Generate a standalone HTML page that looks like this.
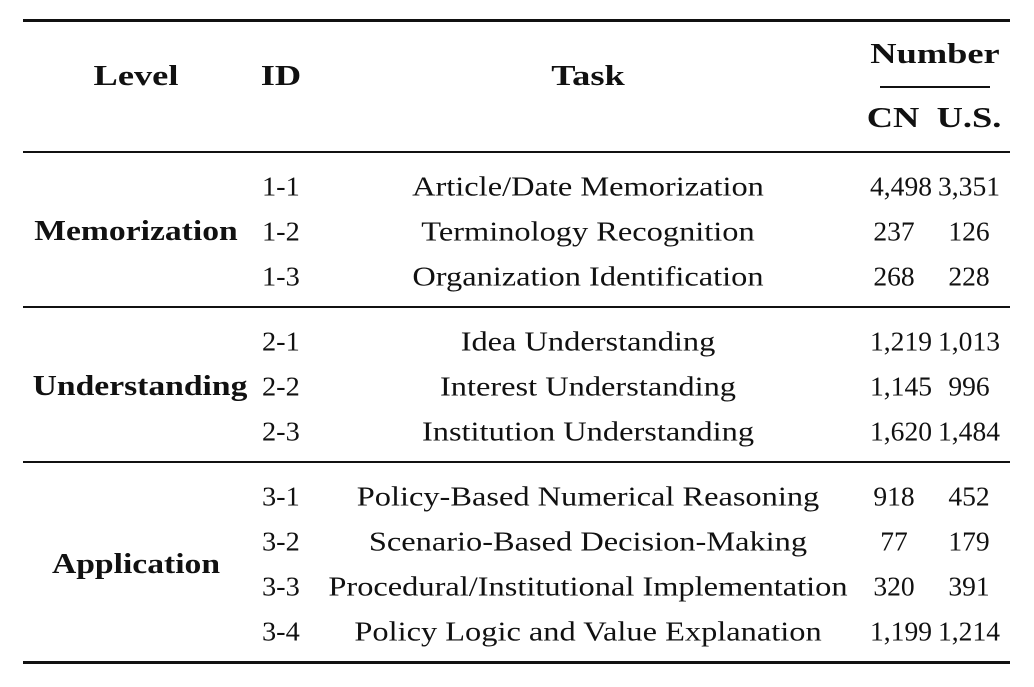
<!DOCTYPE html>
<html><head><meta charset="utf-8"><style>
body{margin:0;width:1034px;height:687px;background:#fff;position:relative;font-family:"Liberation Serif",serif;color:#111;overflow:hidden}
.t{position:absolute;white-space:nowrap;font-size:27px;line-height:1;transform:translate(-50%,-50%) scaleX(1.2)}
.n{position:absolute;white-space:nowrap;font-size:27px;line-height:1;transform:translate(-50%,-50%) scaleX(1.02)}
.l{position:absolute;white-space:nowrap;font-size:27px;line-height:1;transform:translateY(-50%) scaleX(1.05);transform-origin:left center}
.b{position:absolute;white-space:nowrap;line-height:1;font-weight:bold;font-size:28px;transform:translate(-50%,-50%) scaleX(1.2)}
.h{position:absolute;white-space:nowrap;line-height:1;font-weight:bold;font-size:28px;transform:translate(-50%,-50%) scaleX(1.3)}
.r{position:absolute;left:23px;width:987px;background:#111}
</style></head><body>
<div class="r" style="top:19px;height:3px"></div>
<div class="r" style="top:151px;height:1.5px"></div>
<div class="r" style="top:306px;height:1.5px"></div>
<div class="r" style="top:461px;height:1.5px"></div>
<div class="r" style="top:661px;height:3px"></div>
<div style="position:absolute;left:880px;width:110px;top:86px;height:1.5px;background:#111"></div>

<div class="h" style="left:136px;top:77px">Level</div>
<div class="h" style="left:281px;top:77px">ID</div>
<div class="h" style="left:588px;top:77px">Task</div>
<div class="h" style="left:935px;top:55px">Number</div>
<div class="h" style="left:893px;top:119px">CN</div>
<div class="h" style="left:969px;top:119px">U.S.</div>

<div class="b" style="left:136px;top:232px">Memorization</div>
<div class="b" style="left:140px;top:387px">Understanding</div>
<div class="b" style="left:136px;top:565px">Application</div>

<div class="l" style="left:262px;top:187px">1-1</div>
<div class="l" style="left:262px;top:232px">1-2</div>
<div class="l" style="left:262px;top:277px">1-3</div>
<div class="l" style="left:262px;top:342px">2-1</div>
<div class="l" style="left:262px;top:387px">2-2</div>
<div class="l" style="left:262px;top:432px">2-3</div>
<div class="l" style="left:262px;top:497px">3-1</div>
<div class="l" style="left:262px;top:542px">3-2</div>
<div class="l" style="left:262px;top:587px">3-3</div>
<div class="l" style="left:262px;top:632px">3-4</div>

<div class="t" style="left:588px;top:187px">Article/Date Memorization</div>
<div class="t" style="left:588px;top:232px">Terminology Recognition</div>
<div class="t" style="left:588px;top:277px">Organization Identification</div>
<div class="t" style="left:588px;top:342px">Idea Understanding</div>
<div class="t" style="left:588px;top:387px">Interest Understanding</div>
<div class="t" style="left:588px;top:432px">Institution Understanding</div>
<div class="t" style="left:588px;top:497px">Policy-Based Numerical Reasoning</div>
<div class="t" style="left:588px;top:542px">Scenario-Based Decision-Making</div>
<div class="t" style="left:588px;top:587px">Procedural/Institutional Implementation</div>
<div class="t" style="left:588px;top:632px">Policy Logic and Value Explanation</div>

<div class="n" style="left:901px;top:187px">4,498</div><div class="n" style="left:969px;top:187px">3,351</div>
<div class="n" style="left:894px;top:232px">237</div><div class="n" style="left:969px;top:232px">126</div>
<div class="n" style="left:894px;top:277px">268</div><div class="n" style="left:969px;top:277px">228</div>
<div class="n" style="left:901px;top:342px">1,219</div><div class="n" style="left:969px;top:342px">1,013</div>
<div class="n" style="left:901px;top:387px">1,145</div><div class="n" style="left:969px;top:387px">996</div>
<div class="n" style="left:901px;top:432px">1,620</div><div class="n" style="left:969px;top:432px">1,484</div>
<div class="n" style="left:894px;top:497px">918</div><div class="n" style="left:969px;top:497px">452</div>
<div class="n" style="left:894px;top:542px">77</div><div class="n" style="left:969px;top:542px">179</div>
<div class="n" style="left:894px;top:587px">320</div><div class="n" style="left:969px;top:587px">391</div>
<div class="n" style="left:901px;top:632px">1,199</div><div class="n" style="left:969px;top:632px">1,214</div>
</body></html>
